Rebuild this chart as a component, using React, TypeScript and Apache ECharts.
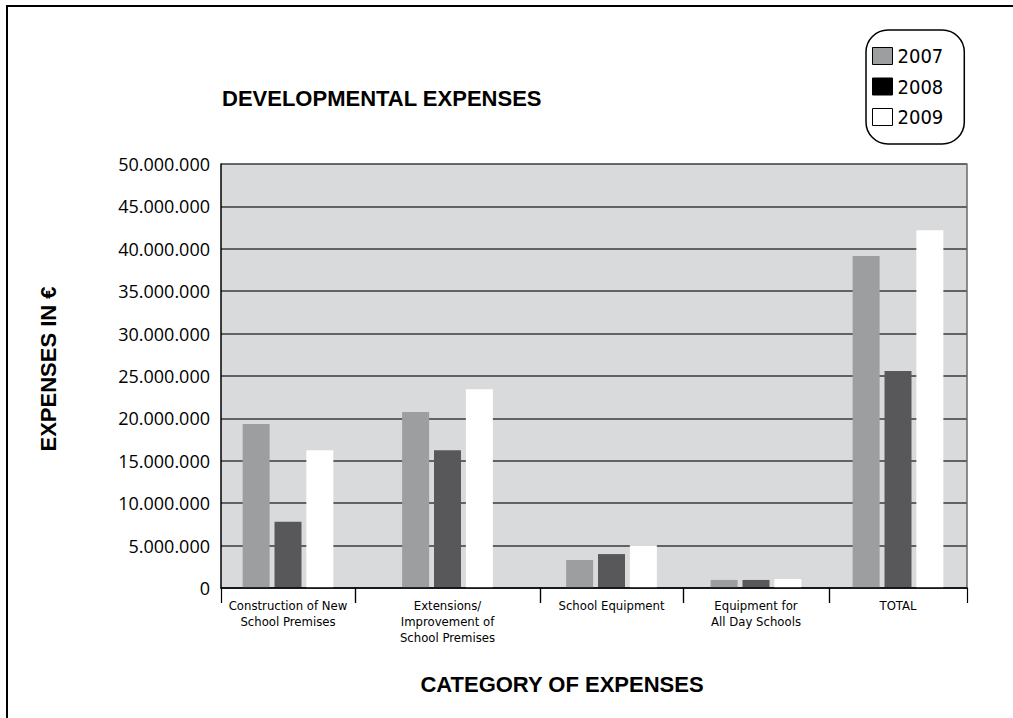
import React, { useEffect, useRef } from "react";
import * as echarts from "echarts";

const categories = [
  "Construction of New\nSchool Premises",
  "Extensions/\nImprovement of\nSchool Premises",
  "School Equipment",
  "Equipment for\nAll Day Schools",
  "TOTAL",
];
const years = ["2007", "2008", "2009"];
const values2007 = [19350000, 20750000, 3300000, 950000, 39150000];
const values2008 = [7800000, 16250000, 4000000, 950000, 25600000];
const values2009 = [16250000, 23450000, 5050000, 1050000, 42200000];
const yTicks = { min: 0, max: 50000000, interval: 5000000 };

// layout (pixel boundaries of each category column)
const bounds = [221, 355, 540, 683, 829, 967];
const PLOT_TOP = 164;
const PLOT_BOTTOM = 588;
const W = 1013;
const H = 718;

const barColors = ["#9d9ea0", "#58585a", "#ffffff"];
const legendColors = ["#9d9ea0", "#000000", "#ffffff"];
const NARROW = "'Liberation Sans Narrow', 'Arial Narrow', 'DejaVu Sans Condensed', sans-serif";
const BOLD = "'Liberation Sans', Arial, sans-serif";

function fmt(v: number) {
  return String(v).replace(/\B(?=(\d{3})+(?!\d))/g, ".");
}

export default function App() {
  const ref = useRef<HTMLDivElement>(null);
  useEffect(() => {
    document.body.style.margin = "0";
    if (!ref.current) return;
    const chart = echarts.init(ref.current, undefined, { renderer: "svg" });
    const seriesValues = [values2007, values2008, values2009];
    const n = categories.length;
    const grids: any[] = [];
    const xAxes: any[] = [];
    const yAxes: any[] = [];
    const series: any[] = [];
    for (let i = 0; i < n; i++) {
      grids.push({
        left: bounds[i],
        width: bounds[i + 1] - bounds[i],
        top: PLOT_TOP,
        height: PLOT_BOTTOM - PLOT_TOP,
        show: true,
        backgroundColor: "#d9dadc",
        borderWidth: 0,
        containLabel: false,
      });
      xAxes.push({
        type: "category",
        gridIndex: i,
        data: [categories[i]],
        boundaryGap: true,
        axisLine: { show: true, lineStyle: { color: "#000", width: 1.5 } },
        axisTick: { show: true, length: 15, lineStyle: { color: "#000", width: 1.2 } },
        axisLabel: {
          interval: 0,
          margin: 9,
          fontFamily: NARROW,
          fontSize: 13,
          lineHeight: 16,
          color: "#000",
          align: "center",
        },
        z: 5,
      });
      const last = i === n - 1;
      const first = i === 0;
      yAxes.push({
        type: "value",
        gridIndex: i,
        min: yTicks.min,
        max: yTicks.max,
        interval: yTicks.interval,
        position: last ? "right" : "left",
        axisLine: {
          show: first || last,
          lineStyle: { color: first ? "#000" : "#6a6a6a", width: 1.5 },
        },
        axisTick: { show: false },
        axisLabel: {
          show: first,
          formatter: (v: number) => fmt(v),
          fontFamily: "'Open Sans', 'Noto Sans', sans-serif",
          fontSize: 18,
          color: "#000",
          margin: 11,
        },
        splitLine: { show: true, lineStyle: { color: "#3a3a3a", width: 1.5 } },
      });
      for (let j = 0; j < years.length; j++) {
        series.push({
          type: "bar",
          name: years[j],
          xAxisIndex: i,
          yAxisIndex: i,
          data: [seriesValues[j][i]],
          barWidth: 27,
          barGap: "18%",
          itemStyle: { color: barColors[j] },
          emphasis: { disabled: true },
        });
      }
    }
    chart.setOption({
      animation: false,
      grid: grids,
      xAxis: xAxes,
      yAxis: yAxes,
      series,
      legend: {
        orient: "vertical",
        left: 866,
        top: 30,
        padding: [15, 21, 16, 6],
        itemWidth: 20,
        itemHeight: 17,
        itemGap: 8.5,
        borderColor: "#000",
        borderWidth: 1.5,
        borderRadius: 22,
        selectedMode: false,
        icon: "rect",
        textStyle: { fontFamily: NARROW, fontSize: 20, lineHeight: 22, color: "#000" },
        data: years.map((y, j) => ({
          name: y,
          icon: "rect",
          itemStyle: { color: legendColors[j], borderColor: "#000", borderWidth: 1 },
        })),
      },
      graphic: [
        {
          type: "polyline",
          shape: { points: [[7, H + 20], [7, 6], [W + 20, 6]] },
          style: { fill: "none", stroke: "#000", lineWidth: 2 },
          silent: true,
        },
        {
          type: "text",
          x: 222,
          y: 98,
          style: {
            text: "DEVELOPMENTAL EXPENSES",
            font: `bold 22px ${BOLD}`,
            fill: "#000",
            textAlign: "left",
            textVerticalAlign: "middle",
          },
        },
        {
          type: "text",
          x: 48,
          y: 369,
          rotation: Math.PI / 2,
          style: {
            text: "EXPENSES IN €",
            font: `bold 22px ${BOLD}`,
            fill: "#000",
            textAlign: "center",
            textVerticalAlign: "middle",
          },
        },
        {
          type: "text",
          x: 562,
          y: 684,
          style: {
            text: "CATEGORY OF EXPENSES",
            font: `bold 22px ${BOLD}`,
            fill: "#000",
            textAlign: "center",
            textVerticalAlign: "middle",
          },
        },
      ],
    });
    return () => chart.dispose();
  }, []);
  return <div ref={ref} style={{ width: W, height: H }} />;
}
